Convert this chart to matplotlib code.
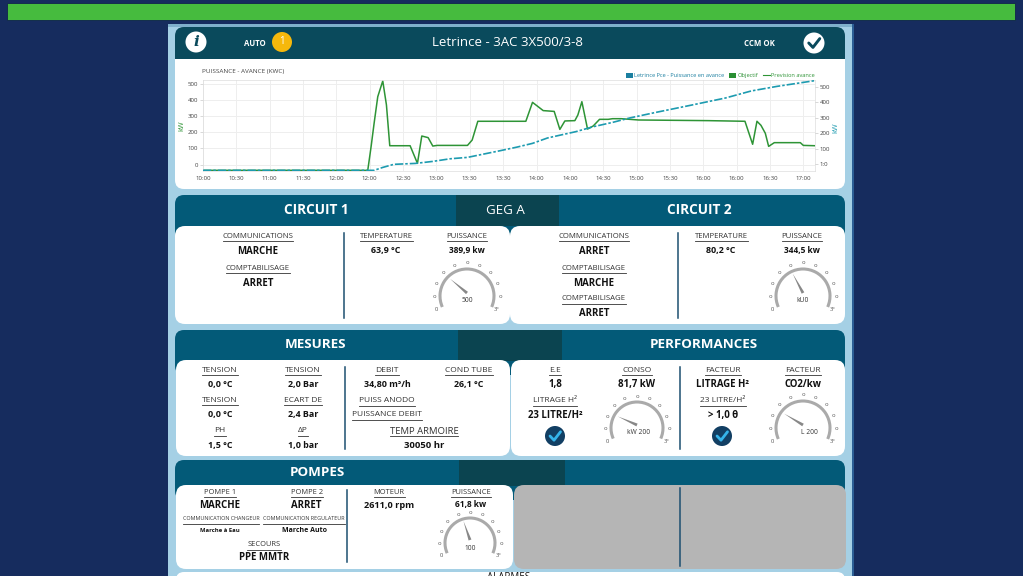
import matplotlib
matplotlib.use("Agg")
import numpy as np
import matplotlib.pyplot as plt
from matplotlib.patches import FancyBboxPatch, Rectangle, Circle, Arc, Polygon
from matplotlib.lines import Line2D

plt.rcParams['font.family'] = ['Open Sans', 'DejaVu Sans']

# chart data
tick_labels = ["10:00", "10:30", "11:00", "11:30", "12:00", "12:00", "12:30", "13:00", "13:30", "13:30",
               "14:00", "14:00", "14:30", "15:00", "15:30", "16:00", "16:00", "16:30", "17:00"]
left_ticks = [0, 100, 200, 300, 400, 500]
right_ticks = [0, 100, 200, 300, 400, 500]
right_tick_labels = ["1:0", "100", "200", "300", "400", "500"]

objectif_x = [0, 4.94, 5.04, 5.13, 5.24, 5.39, 5.50, 5.60, 6.21, 6.43, 6.56, 6.75, 6.89, 7.02, 7.93, 8.07, 8.24,
              9.68, 9.88, 10.2, 10.53, 10.7, 10.85, 11.15, 11.24, 11.36, 11.53, 11.7, 11.89, 12.15, 12.28, 12.54,
              13.06, 15.14, 16.25, 16.48, 16.61, 16.73, 16.86, 16.96, 17.13, 17.91, 18.0, 18.35]
objectif_y = [-35, -35, 111, 255, 420, 517, 369, 117, 117, 8, 177, 167, 115, 119, 119, 152, 268,
              268, 385, 334, 329, 218, 270, 272, 307, 389, 220, 239, 280, 280, 284, 284,
              276, 272, 268, 126, 268, 243, 194, 113, 136, 136, 119, 117]

prevision_x = [0, 5.13, 5.39, 5.72, 6.37, 6.89, 7.41, 7.93, 8.38, 8.9, 9.42, 9.88, 10.33, 11.18, 11.7, 12.28, 12.8,
               13.58, 14.62, 15.66, 16.44, 17.22, 18.35]
prevision_y = [-41, -41, -22, -2, 4, 17, 34, 43, 63, 86, 110, 134, 169, 210, 242, 270, 299,
               335, 381, 428, 474, 504, 541]

# gauges
gauge_texts = ["500", "kU0", "kW 200", "L 200", "100"]
gauge_needle_angles = [140, 118, 156, 149, 109]

NAVY = "#162c5e"
PANEL = "#a5d0e5"
HEAD = "#035a78"
HEAD_TOP = "#0a4a5c"
DARK = "#0b4450"
GREEN = "#2e9436"
TEAL = "#1d9bb0"

fig = plt.figure(figsize=(10.23, 5.76), dpi=100, facecolor=NAVY)
bg = fig.add_axes([0, 0, 1, 1])
bg.set_xlim(0, 1023)
bg.set_ylim(576, 0)
bg.axis("off")


def box(x0, y0, x1, y1, color, r=8, z=1):
    bg.add_patch(FancyBboxPatch((x0 + r, y0 + r), x1 - x0 - 2 * r, y1 - y0 - 2 * r,
                                boxstyle=f"round,pad={r},rounding_size={r}",
                                fc=color, ec="none", zorder=z))


def rect(x0, y0, x1, y1, color, z=1):
    bg.add_patch(Rectangle((x0, y0), x1 - x0, y1 - y0, fc=color, ec="none", zorder=z))


def txt(x, y, s, size=6.4, color="#111111", weight="bold", **kw):
    return bg.text(x, y, s, fontsize=size, color=color, fontweight=weight,
                   ha="center", va="center", zorder=5, **kw)


def head(x, y, s, size=5.6):
    # underlined field title
    t = txt(x, y, s, size=size, color="#333333", weight="normal")
    w = t.get_window_extent(fig.canvas.get_renderer()).width
    bg.plot([x - w / 2, x + w / 2], [y + 4.5, y + 4.5], color="#333333", lw=0.6, zorder=5)


def sep(x, y0, y1):
    bg.plot([x, x], [y0, y1], color="#1c4f70", lw=1.1, zorder=5)


def check(x, y, r, face, mark):
    bg.add_patch(Circle((x, y), r, fc=face, ec="none", zorder=5))
    bg.plot([x - r * .5, x - r * .1, x + r * .55], [y, y + r * .42, y - r * .42],
            color=mark, lw=r * .2, zorder=6, solid_capstyle="round")


def gauge(x, y, r, label, angle, lx=0):
    # y axis points down here, so the arc runs from lower left over the top to lower right
    bg.add_patch(Arc((x, y), 2 * r, 2 * r, theta1=156, theta2=384, ec="#aaaaaa", lw=2.2, zorder=5))
    marks = np.linspace(204, -24, 11)
    for i, a in enumerate(marks):
        rad = np.radians(a)
        s = "0" if i == 0 else "3°" if i == len(marks) - 1 else "o"
        bg.text(x + (r + 6) * np.cos(rad), y - (r + 6) * np.sin(rad), s, fontsize=4.2, color="#555555",
                ha="center", va="center", zorder=5)
    rad = np.radians(angle)
    nx, ny = np.cos(rad), -np.sin(rad)
    bg.add_patch(Polygon([(x + 1.5 * ny, y - 3 - 1.5 * nx), (x - 1.5 * ny, y - 3 + 1.5 * nx),
                          (x + (r - 5) * nx, y - 3 + (r - 5) * ny)], fc="#888888", ec="none", zorder=6))
    txt(x + lx, y + 5, label, size=4.8, color="#333333", weight="normal")


# page background
rect(168, 24, 853, 576, PANEL, 0)
rect(168, 24, 853, 27, "#7fb0cb", 0.5)
rect(852, 24, 853.5, 576, "#2c5f95", 0.5)
rect(7, 3, 1016, 21, "#14304c", 1)
rect(8, 4, 1015, 20, "#46bb3e", 2)

# top card
box(175, 27, 845, 80, HEAD_TOP, 9)
box(175, 50, 845, 189, "white", 9, 2)
rect(175, 40, 845, 59, HEAD_TOP, 3)
txt(507, 43, "Letrince - 3AC 3X500/3-8", size=9.5, color="white", weight="normal")
txt(255, 43, "AUTO", size=5.6, color="white")
txt(759, 43, "CCM OK", size=5.6, color="white")
bg.add_patch(Circle((196, 42), 10.5, fc="white", ec="none", zorder=5))
bg.text(196, 42, "i", fontsize=11, family="DejaVu Serif", style="italic", fontweight="bold", color=HEAD_TOP,
        ha="center", va="center", zorder=6)
bg.add_patch(Circle((282, 42), 10, fc="#f6b80c", ec="none", zorder=5))
txt(282, 42, "1", size=7, color="white", weight="normal")
check(814, 43, 10.5, "white", HEAD_TOP)
bg.text(202, 71, "PUISSANCE - AVANCE (KWC)", fontsize=4.6, color="#444444", ha="left", va="center", zorder=5)

# sections
for y0, y1, x0, x1 in [(195, 240, 456, 559), (330, 375, 458, 562), (460, 500, 459, 565)]:
    box(175, y0, 845, y1, HEAD, 9)
    rect(x0, y0, x1, y1 - 14, DARK, 2)
box(175, 226, 510, 324, "white", 10, 3)
box(510, 226, 845, 324, "white", 10, 3)
box(176, 360, 510, 456, "white", 10, 3)
box(511, 360, 845, 456, "white", 10, 3)
box(176, 485, 513, 569, "white", 10, 3)
box(514, 485, 846, 569, "#b5b5b5", 10, 3)
sep(680, 488, 566)
box(176, 572, 845, 600, "white", 8, 2)
txt(509, 578, "ALARMES", size=7, weight="normal")

txt(316, 210, "CIRCUIT 1", size=9.8, color="white")
txt(505, 210, "GEG A", size=9.6, color="white", weight="normal")
txt(699, 210, "CIRCUIT 2", size=9.8, color="white")
txt(316, 344, "MESURES", size=9.6, color="white")
txt(704, 344, "PERFORMANCES", size=9.6, color="white")
txt(317, 472, "POMPES", size=9.6, color="white")

# circuit 1
head(258, 236, "COMMUNICATIONS")
txt(258, 251, "MARCHE", size=6.9)
head(258, 268, "COMPTABILISAGE")
txt(258, 283, "ARRET", size=6.9)
sep(344, 233, 318)
head(386, 236, "TEMPERATURE")
txt(386, 251, "63,9 °C")
head(467, 236, "PUISSANCE")
txt(467, 251, "389,9 kw", size=6)

# circuit 2
head(594, 236, "COMMUNICATIONS")
txt(594, 251, "ARRET", size=6.9)
head(594, 268, "COMPTABILISAGE")
txt(594, 283, "MARCHE", size=6.9)
head(594, 299, "COMPTABILISAGE")
txt(594, 314, "ARRET", size=6.9)
sep(678, 233, 318)
head(721, 236, "TEMPERATURE")
txt(721, 251, "80,2 °C")
head(802, 236, "PUISSANCE")
txt(802, 251, "344,5 kw", size=6)

# mesures
for x, y, a, b in [(220, 370, "TENSION", "0,0 °C"), (303, 370, "TENSION", "2,0 Bar"),
                   (220, 400, "TENSION", "0,0 °C"), (303, 400, "ECART DE", "2,4 Bar"),
                   (220, 431, "PH", "1,5 °C"), (303, 431, "ΔP", "1,0 bar"),
                   (387, 370, "DEBIT", "34,80 m³/h"), (469, 370, "COND TUBE", "26,1 °C")]:
    head(x, y, a, size=6)
    txt(x, y + 14.5, b)
sep(345, 367, 449)
head(387, 401, "PUISS ANODO", size=6)
head(387, 415, "PUISSANCE DEBIT", size=6)
head(424, 431, "TEMP ARMOIRE", size=6.8)
txt(424, 446, "30050 hr", size=6.8)

# performances
for x, y, a, b in [(555, 370, "E.E", "1,8"), (637, 370, "CONSO", "81,7 kW"), (723, 370, "FACTEUR", "LITRAGE H²"),
                   (803, 370, "FACTEUR", "CO2/kw"), (555, 401, "LITRAGE H²", "23 LITRE/H²"),
                   (723, 401, "23 LITRE/H²", "> 1,0 θ")]:
    head(x, y, a, size=6)
    txt(x, y + 14.5, b, size=6.9)
sep(680, 367, 449)
check(555, 436, 10, "#123f63", "#35b4ea")
check(722, 436, 10, "#123f63", "#35b4ea")

# pompes
head(220, 492, "POMPE 1", size=5.4)
txt(220, 505, "MARCHE", size=6.9)
head(307, 492, "POMPE 2", size=5.4)
txt(306, 505, "ARRET", size=6.9)
head(221, 519, "COMMUNICATION CHANGEUR", size=3.9)
head(304, 519, "COMMUNICATION REGULATEUR", size=3.9)
txt(220, 531, "Marche à Eau", size=4.2)
txt(305, 531, "Marche Auto", size=5)
head(264, 545, "SECOURS", size=5.4)
txt(264, 558, "PPE MMTR", size=6.9)
sep(347, 490, 562)
head(389, 492, "MOTEUR", size=5.4)
txt(389, 505, "2611,0 rpm", size=6.6)
head(471, 492, "PUISSANCE", size=5.4)
txt(471, 505, "61,8 kw", size=6)

gauge(467, 296, 27, gauge_texts[0], gauge_needle_angles[0])
gauge(803, 296, 27, gauge_texts[1], gauge_needle_angles[1])
gauge(637, 428, 26, gauge_texts[2], gauge_needle_angles[2], 2)
gauge(803, 428, 27, gauge_texts[3], gauge_needle_angles[3], 6)
gauge(470, 543, 25, gauge_texts[4], gauge_needle_angles[4])

# chart
ax = fig.add_axes([203 / 1023, 1 - 170.5 / 576, 612 / 1023, 90.5 / 576], facecolor="white", zorder=10)
ax.set_xlim(0, 18.35)
ax.set_ylim(-36, 523)
ax.plot(objectif_x, objectif_y, color=GREEN, lw=1.1)
ax.set_xticks(range(len(tick_labels)))
ax.set_xticklabels(tick_labels)
ax.set_yticks(left_ticks)
ax.grid(True, color="#eeeeee", lw=0.7)
ax.set_axisbelow(True)
ax.tick_params(labelsize=4.4, labelcolor="#444444", length=2, width=0.4, color="#bbbbbb", pad=1.5)
ax.tick_params(axis="x", pad=4, length=0)
for s in ax.spines.values():
    s.set_color("#dddddd")
    s.set_linewidth(0.5)

ax2 = ax.twinx()
ax2.set_ylim(-42, 545)
ax2.plot(prevision_x, prevision_y, color=TEAL, lw=1.2, ls=(0, (5, 1.2, 1.5, 1.2)))
ax2.set_yticks(right_ticks)
ax2.set_yticklabels(right_tick_labels)
ax2.tick_params(labelsize=4.4, labelcolor="#444444", length=2, width=0.4, color="#bbbbbb", pad=1.5)
for s in ax2.spines.values():
    s.set_visible(False)

bg.text(182, 126, "kW", fontsize=5.2, color=GREEN, rotation=90, ha="center", va="center", zorder=5)
bg.text(836, 128, "kW", fontsize=5.2, color=TEAL, rotation=90, ha="center", va="center", zorder=5)

handles = [Rectangle((0, 0), 1, 1, fc="#1b7fa0"), Rectangle((0, 0), 1, 1, fc="#2a8f33"),
           Line2D([0], [0], color=GREEN, lw=0.8)]
fig.legend(handles, ["Letrince Pce - Puissance en avance", "Objectif", "Prevision avance"],
           loc="center right", bbox_to_anchor=(815 / 1023, 1 - 75.5 / 576), ncol=3, frameon=False,
           fontsize=4.1, labelcolor=["#1b7fa0", "#2a8f33", GREEN], handlelength=1.2, handleheight=0.9,
           handletextpad=0.3, columnspacing=0.8, borderpad=0, borderaxespad=0)

fig.savefig("out.png", dpi=100, facecolor=NAVY)
